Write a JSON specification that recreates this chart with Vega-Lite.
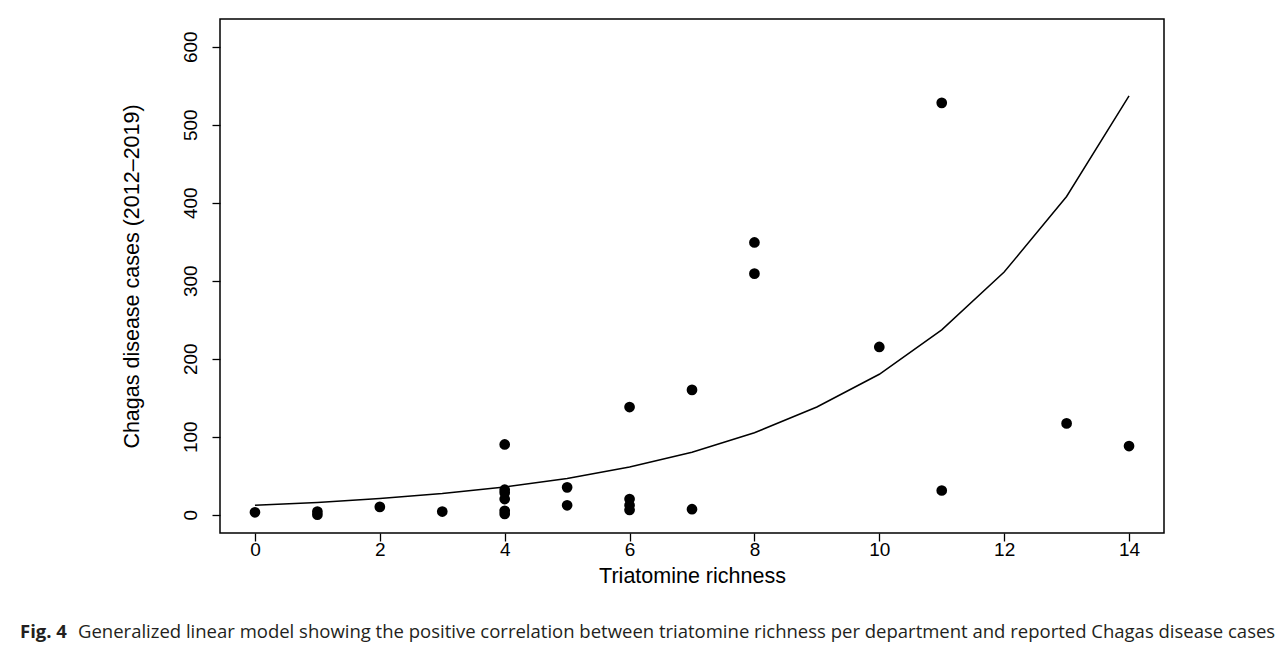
{
  "$schema": "https://vega.github.io/schema/vega-lite/v6.json",
  "autosize": {"type": "pad"},
  "padding": {"left": 20, "top": 18, "right": 0, "bottom": 0},
  "background": "white",
  "title": {
    "text": "Fig. 4",
    "orient": "bottom",
    "anchor": "start",
    "frame": "group",
    "dx": -200,
    "offset": -19,
    "font": "Open Sans",
    "fontSize": 18.5,
    "fontWeight": "bold",
    "color": "#231f20"
  },
  "config": {
    "view": {"stroke": "black", "strokeWidth": 1.5},
    "concat": {"spacing": 0},
    "axis": {
      "domain": false,
      "grid": false,
      "ticks": true,
      "tickColor": "black",
      "tickWidth": 1.3,
      "tickSize": 8,
      "labelFont": "Liberation Sans",
      "labelFontSize": 19,
      "labelColor": "black",
      "titleFont": "Liberation Sans",
      "titleFontSize": 21.5,
      "titleFontWeight": "normal",
      "titleColor": "black"
    }
  },
  "datasets": {
    "points": [
      {"richness": 0, "cases": 3},
      {"richness": 1, "cases": 4},
      {"richness": 1, "cases": 0},
      {"richness": 2, "cases": 10},
      {"richness": 3, "cases": 4},
      {"richness": 4, "cases": 90},
      {"richness": 4, "cases": 32},
      {"richness": 4, "cases": 28},
      {"richness": 4, "cases": 20},
      {"richness": 4, "cases": 5},
      {"richness": 4, "cases": 1},
      {"richness": 5, "cases": 35},
      {"richness": 5, "cases": 12},
      {"richness": 6, "cases": 138},
      {"richness": 6, "cases": 20},
      {"richness": 6, "cases": 12},
      {"richness": 6, "cases": 6},
      {"richness": 7, "cases": 160},
      {"richness": 7, "cases": 7},
      {"richness": 8, "cases": 349},
      {"richness": 8, "cases": 309},
      {"richness": 10, "cases": 215},
      {"richness": 11, "cases": 528},
      {"richness": 11, "cases": 31},
      {"richness": 13, "cases": 117},
      {"richness": 14, "cases": 88}
    ],
    "fit": [
      {"richness": 0, "fitted": 12},
      {"richness": 1, "fitted": 15.7},
      {"richness": 2, "fitted": 20.6},
      {"richness": 3, "fitted": 27},
      {"richness": 4, "fitted": 35.5},
      {"richness": 5, "fitted": 46.5},
      {"richness": 6, "fitted": 61},
      {"richness": 7, "fitted": 80},
      {"richness": 8, "fitted": 105},
      {"richness": 9, "fitted": 138},
      {"richness": 10, "fitted": 180},
      {"richness": 11, "fitted": 237},
      {"richness": 12, "fitted": 311},
      {"richness": 13, "fitted": 408},
      {"richness": 14, "fitted": 537}
    ]
  },
  "vconcat": [
    {
      "width": 944,
      "height": 514,
      "title": {
        "text": "Generalized linear model showing the positive correlation between triatomine richness per department and reported Chagas disease cases",
        "orient": "bottom",
        "anchor": "start",
        "frame": "group",
        "dx": -142,
        "offset": 36,
        "font": "Open Sans",
        "fontSize": 18.5,
        "fontWeight": "normal",
        "color": "#231f20"
      },
      "layer": [
        {
          "data": {"name": "fit"},
          "mark": {"type": "line", "color": "black", "strokeWidth": 1.5, "clip": true},
          "encoding": {
            "x": {"field": "richness", "type": "quantitative"},
            "y": {"field": "fitted", "type": "quantitative"}
          }
        },
        {
          "data": {"name": "points"},
          "mark": {"type": "point", "filled": true, "shape": "circle", "color": "black", "opacity": 1, "size": 115},
          "encoding": {
            "x": {
              "field": "richness",
              "type": "quantitative",
              "scale": {"domain": [-0.56, 14.56], "nice": false, "zero": false},
              "axis": {"values": [0, 2, 4, 6, 8, 10, 12, 14], "format": "d", "title": "Triatomine richness", "labelPadding": -1, "titlePadding": 6}
            },
            "y": {
              "field": "cases",
              "type": "quantitative",
              "scale": {"domain": [-23.5, 635.5], "nice": false, "zero": false},
              "axis": {"values": [0, 100, 200, 300, 400, 500, 600], "format": "d", "title": "Chagas disease cases (2012\u20132019)", "labelAngle": -90, "labelAlign": "center", "labelBaseline": "bottom", "labelPadding": 12, "titlePadding": 38}
            }
          }
        }
      ]
    }
  ]
}
